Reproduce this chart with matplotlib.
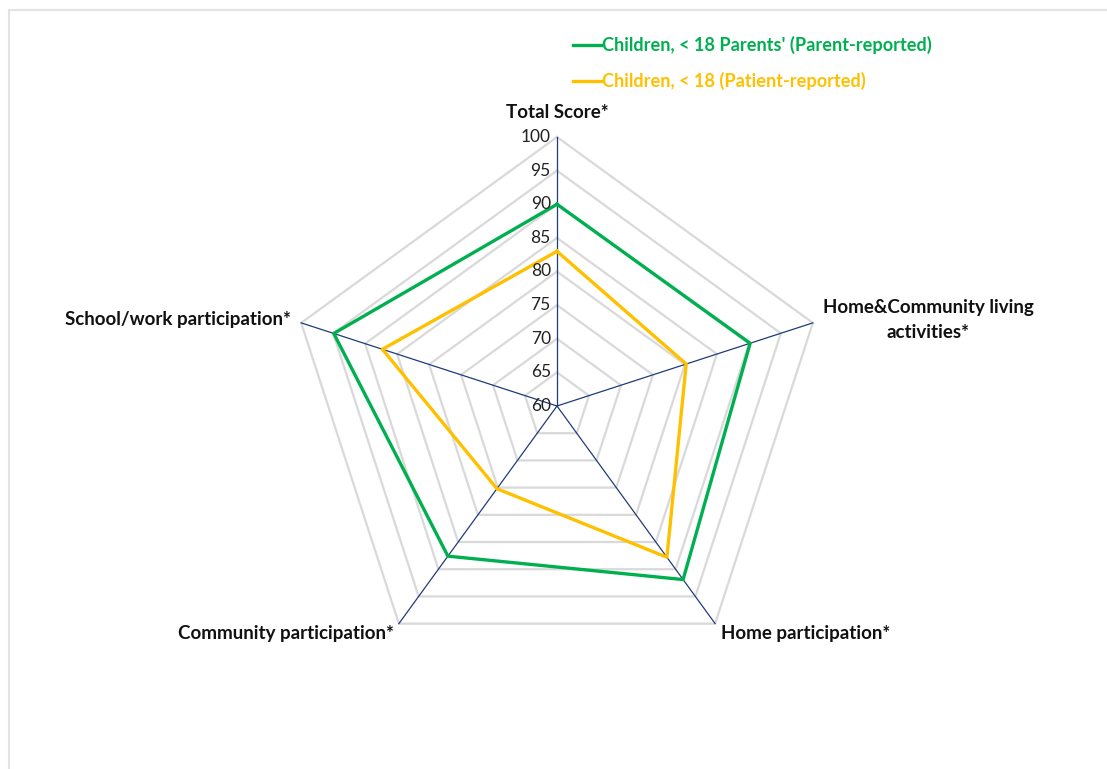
import matplotlib
matplotlib.use('Agg')
import matplotlib.pyplot as plt
from matplotlib.lines import Line2D
from matplotlib.patches import Rectangle
import numpy as np

categories = ["Total Score*", "Home&Community living\nactivities*", "Home participation*",
              "Community participation*", "School/work participation*"]
parent_reported = [90.0, 90.2, 91.9, 87.6, 94.9]
patient_reported = [83.0, 80.2, 87.8, 75.2, 87.3]
ticks = [60, 65, 70, 75, 80, 85, 90, 95, 100]
series_names = ["Children, < 18 Parents' (Parent-reported)", "Children, < 18 (Patient-reported)"]
series_colors = ["#00b050", "#ffc000"]

plt.rcParams['font.family'] = ['Lato', 'DejaVu Sans']

W, H = 1107, 769
fig = plt.figure(figsize=(W / 100, H / 100), dpi=100)
fig.patch.set_facecolor('white')

# outer light frame
fig.add_artist(Rectangle((9 / W, -0.5), 2.0, (H - 10) / H + 0.5, transform=fig.transFigure,
                         fill=False, edgecolor='#e3e3e3', linewidth=1.5))

cx, cy, R = 557, 406, 269
ax = fig.add_axes([(cx - R) / W, (H - cy - R) / H, 2 * R / W, 2 * R / H], projection='polar')
ax.set_theta_offset(np.pi / 2)
ax.set_theta_direction(-1)
ax.set_ylim(ticks[0], ticks[-1])
ax.axis('off')

n = len(categories)
theta = np.arange(n) * 2 * np.pi / n
theta_c = np.append(theta, theta[0])

for t in ticks[1:]:
    ax.plot(theta_c, [t] * (n + 1), color='#d9d9d9', lw=1.6, zorder=1, clip_on=False)
for th in theta:
    ax.plot([th, th], [ticks[0], ticks[-1]], color='#1f3c7a', lw=0.9, zorder=2, clip_on=False)

for vals, col in zip([parent_reported, patient_reported], series_colors):
    ax.plot(theta_c, vals + vals[:1], color=col, lw=2.4, zorder=3, clip_on=False)

for t in ticks:
    ax.annotate(str(t), xy=(0, t), xytext=(-4.5, 0), textcoords='offset points',
                ha='right', va='center', fontsize=12.5, color='#222222')

label_pos = [(557, 113), (928, 320), (806, 634), (286, 634), (178, 320)]
for lab, (px, py) in zip(categories, label_pos):
    fig.text(px / W, 1 - py / H, lab, ha='center', va='center', fontsize=13.5,
             fontweight='bold', color='#111111', linespacing=1.55)

# legend
for i, (name, col) in enumerate(zip(series_names, series_colors)):
    y = 1 - (45 + 36 * i) / H
    fig.add_artist(Line2D([573 / W, 601 / W], [y, y], transform=fig.transFigure,
                          color=col, lw=2.4))
    fig.text(602 / W, y, name, ha='left', va='center', fontsize=13.1,
             fontweight='bold', color=col)

fig.savefig('out.png', dpi=100, facecolor='white')
